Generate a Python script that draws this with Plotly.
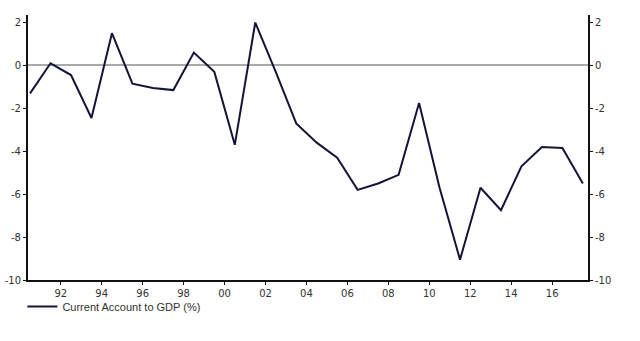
import plotly.graph_objects as go

years = [1990.5, 1991.5, 1992.5, 1993.5, 1994.5, 1995.5, 1996.5, 1997.5, 1998.5, 1999.5,
         2000.5, 2001.5, 2002.5, 2003.5, 2004.5, 2005.5, 2006.5, 2007.5, 2008.5, 2009.5,
         2010.5, 2011.5, 2012.5, 2013.5, 2014.5, 2015.5, 2016.5, 2017.5]
ca_gdp = [-1.3, 0.1, -0.45, -2.45, 1.5, -0.85, -1.05, -1.15, 0.6, -0.3,
          -3.7, 2.0, -0.3, -2.7, -3.6, -4.3, -5.8, -5.5, -5.1, -1.75,
          -5.7, -9.05, -5.7, -6.75, -4.7, -3.8, -3.85, -5.5]
xtick_vals = [1992, 1994, 1996, 1998, 2000, 2002, 2004, 2006, 2008, 2010, 2012, 2014, 2016]
xtick_text = ["92", "94", "96", "98", "00", "02", "04", "06", "08", "10", "12", "14", "16"]
ytick_vals = [2, 0, -2, -4, -6, -8, -10]
ytick_text = ["2", "0", "-2", "-4", "-6", "-8", "-10"]

font = dict(family="Verdana, DejaVu Sans, sans-serif", size=10, color="#333333")

fig = go.Figure()
fig.add_trace(go.Scatter(x=years, y=ca_gdp, mode="lines", name="Current Account to GDP (%)",
                         line=dict(color="#141438", width=2)))
fig.add_trace(go.Scatter(x=years, y=ca_gdp, mode="lines", yaxis="y2", showlegend=False,
                         hoverinfo="skip", line=dict(color="rgba(0,0,0,0)", width=0)))

yr = [-10, 2.35]
fig.update_layout(
    width=640, height=341,
    margin=dict(l=28, r=52, t=15, b=61),
    paper_bgcolor="white", plot_bgcolor="white",
    font=font,
    showlegend=True,
    legend=dict(orientation="h", x=-0.01, xanchor="left", y=-0.045, yanchor="top",
                font=dict(family="Liberation Sans, Arial, sans-serif", size=11, color="#333333"),
                itemwidth=30, tracegroupgap=0, bgcolor="rgba(0,0,0,0)"),
    xaxis=dict(range=[1990.4, 2017.75], tickvals=xtick_vals, ticktext=xtick_text, automargin=False,
               showgrid=False, zeroline=False, showline=True, linecolor="#111111", linewidth=2,
               ticks="outside", ticklen=3, tickwidth=1, tickcolor="#111111", tickfont=font),
    yaxis=dict(range=yr, tickvals=ytick_vals, ticktext=ytick_text, showgrid=False, automargin=False,
               zeroline=True, zerolinecolor="#aaaaaa", zerolinewidth=2,
               showline=True, linecolor="#111111", linewidth=2,
               ticks="outside", ticklen=3, tickwidth=1, tickcolor="#111111", tickfont=font),
    yaxis2=dict(range=yr, tickvals=ytick_vals, ticktext=ytick_text, overlaying="y", side="right",
                anchor="x", automargin=False,
                showgrid=False, zeroline=False, showline=True, linecolor="#111111", linewidth=2,
                ticks="outside", ticklen=3, tickwidth=1, tickcolor="#111111", tickfont=font),
)

fig.write_html("out.html")
